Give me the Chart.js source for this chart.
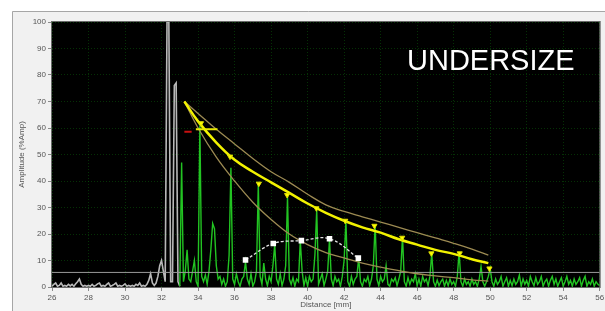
<!DOCTYPE html>
<html>
<head>
<meta charset="utf-8">
<script src="https://cdn.jsdelivr.net/npm/chart.js@4.4.1/dist/chart.umd.min.js"></script>
<style>
  html, body { margin: 0; padding: 0; background: #fff; }
  #wrap { position: relative; width: 605px; height: 311px; }
</style>
</head>
<body>
<div id="wrap"><canvas id="scan" width="605" height="311"></canvas></div>
<script>
const xTickValues = [26, 28, 30, 32, 34, 36, 38, 40, 42, 44, 46, 48, 50, 52, 54, 56];
const yTickValues = [0, 10, 20, 30, 40, 50, 60, 70, 80, 90, 100];

// sampled every 0.1 mm
const scanStep = 0.1;
const grayStart = 26.0;   // initial pulse / interface echo (gray)
const grayAmp = [
  0.3, 1, 1.5, 0.3, 0.6, 1.5, 0.3, 0.6, 0.3, 1,
  0.4, 1, 0.3, 1.2, 2, 3, 1, 0.3, 0.6, 0.3,
  0.6, 0.3, 1, 0.3, 0.6, 1.2, 1.5, 0.3, 0.6, 0.3,
  1, 1.5, 0.3, 0.6, 1, 1.5, 0.3, 0.6, 0.3, 0.6,
  1.2, 0.3, 0.6, 0.3, 0.6, 0.3, 1, 0.6, 1.5, 0.3,
  0.6, 0.3, 1, 2.5, 5, 1.5, 0.6, 1.5, 4, 8,
  10, 6, 2, 100, 100, 2, 2, 76, 77, 2,
  0.3
];
const greenStart = 33.0;  // weld signal (green)
const greenAmp = [
  0.3, 47, 2, 6, 14, 3, 2, 6, 10, 2,
  0.3, 61, 4, 2, 4.5, 1, 6, 14, 24, 22,
  8, 3, 4, 1, 3, 0.3, 2, 12, 45, 3,
  1, 5, 2, 0.3, 3, 4, 9.5, 3, 1, 5,
  0.3, 2, 6, 39, 4, 1, 9, 3, 0.5, 4,
  2, 8, 16, 3, 1, 5, 0.5, 3, 8, 34,
  3, 1, 3.5, 0.3, 3, 2, 17.5, 6, 0.5, 3.5,
  0.3, 4, 2, 3, 12, 29, 1, 3, 5, 0.5,
  3, 6, 18, 3, 0.5, 4, 2, 3, 0.3, 4,
  10, 25, 2, 0.3, 4, 1, 3, 4, 11, 2,
  0.3, 3, 2, 4, 0.5, 3, 8, 23.5, 3, 0.5,
  4, 2, 3, 8, 1, 0.3, 3, 2, 3.5, 0.5,
  3, 6, 19, 2, 0.3, 3.5, 1, 3, 2, 5,
  0.5, 3, 0.3, 4, 2, 3, 0.5, 4, 12.7, 2,
  0.3, 2.6, 0.5, 2, 3, 0.3, 2.5, 0.5, 3, 1,
  2, 0.3, 4, 13.3, 2, 0.3, 3, 1, 2, 0.3,
  3, 1, 2, 0.3, 3, 7.7, 2, 0.3, 2, 4,
  7, 2, 0.3, 3, 1, 2, 4, 0.3, 2, 3.5,
  0.3, 2.5, 0.5, 3, 1, 2, 4.5, 0.3, 3, 1,
  2.5, 0.3, 4, 2, 0.5, 3.5, 1, 2, 4, 0.3,
  2, 3, 0.3, 2.5, 4, 1, 3, 0.3, 2, 3.5,
  0.3, 2, 4, 1, 2.5, 0.3, 3, 1, 2, 3.5,
  0.3, 2.5, 4, 0.3, 2, 1, 3, 0.3, 2, 1,
  0.5
];

// DAC curve (yellow) with the two thin reference curves
const curveX    = [33.25, 34, 35, 36, 37, 38, 39, 40, 41, 42, 43, 44, 45, 46, 47, 48, 49, 49.9];
const dacMain   = [70, 62.5, 54.5, 48, 43.5, 39.5, 35.5, 31.5, 28, 25, 22.5, 20.5, 18, 16, 14, 12.5, 10.5, 9];
const dacUpper  = [70, 65.5, 59.5, 54, 48.5, 43.5, 39.5, 35, 31, 28.5, 26.5, 24.5, 22.5, 20.5, 18.5, 16.5, 14.3, 12];
const dacLower  = [70, 60, 49, 40, 32, 25.5, 20, 16, 13, 11, 9, 7.5, 6.2, 5, 4.2, 3.5, 2.7, 2.2];

// peak markers (yellow triangles)
const markX   = [34.16, 35.75, 37.33, 38.88, 40.48, 42.06, 43.66, 45.18, 46.78, 48.33, 49.96];
const markAmp = [61.8, 49.2, 39, 34.7, 29.7, 25, 23.1, 18.6, 12.7, 12.7, 7];

// echo dynamic (white squares)
const echoX   = [36.6, 38.12, 39.66, 41.2, 42.78];
const echoAmp = [10.2, 16.4, 17.5, 18.2, 10.9];

// gate / reference marks
const gateX = [33.88, 35.06];
const gateLevel = 59.5;
const refX = [33.25, 33.65];
const refLevel = 58.6;
const thresholdX = [26, 56];
const thresholdLevel = 5.5;

const statusText = 'UNDERSIZE';

/* ── helpers ── */
function sampled(start, amps) {
  return amps.map(function (a, i) { return { x: +(start + i * scanStep).toFixed(2), y: a }; });
}
function pairs(xs, ys) {
  return xs.map(function (x, i) { return { x: x, y: ys[i] }; });
}
function flat(xs, level) {
  return xs.map(function (x) { return { x: x, y: level }; });
}

/* ── frame + label plugin ── */
const framePlugin = {
  id: 'frame',
  beforeDraw: function (chart) {
    const ctx = chart.ctx, a = chart.chartArea;
    ctx.save();
    ctx.fillStyle = '#ffffff';
    ctx.fillRect(0, 0, chart.width, chart.height);
    ctx.fillStyle = '#f1f1f1';
    ctx.fillRect(12, 11, chart.width - 12, chart.height - 11);
    ctx.strokeStyle = '#a6a6a6';
    ctx.lineWidth = 1;
    ctx.beginPath();
    ctx.moveTo(12.5, chart.height); ctx.lineTo(12.5, 11.5); ctx.lineTo(chart.width, 11.5);
    ctx.stroke();
    ctx.fillStyle = '#000000';
    ctx.fillRect(a.left, a.top, a.right - a.left, a.bottom - a.top);
    ctx.restore();
  },
  afterDraw: function (chart) {
    const ctx = chart.ctx, a = chart.chartArea;
    ctx.save();
    ctx.strokeStyle = '#6a6a6a';
    ctx.lineWidth = 1;
    ctx.strokeRect(a.left - 0.5, a.top - 0.5, a.right - a.left + 1, a.bottom - a.top + 1);
    ctx.fillStyle = '#ffffff';
    ctx.font = '29px "Liberation Sans", Arial, sans-serif';
    ctx.textBaseline = 'alphabetic';
    ctx.fillText(statusText, 407, 70);
    ctx.restore();
  }
};

Chart.defaults.font.family = '"Liberation Sans", Arial, sans-serif';

const tickFont = { size: 8 };
const gridCommon = {
  color: 'rgba(10,95,10,0.5)',
  lineWidth: 1,
  tickLength: 4,
  tickColor: '#8a8a8a',
  tickBorderDash: []
};

new Chart(document.getElementById('scan'), {
  type: 'line',
  data: {
    datasets: [
      { label: 'markers', data: pairs(markX, markAmp), showLine: false,
        pointStyle: 'triangle', rotation: 180, pointRadius: 3,
        pointBackgroundColor: '#ffff00', pointBorderColor: '#e0e000', pointBorderWidth: 1, order: 1 },
      { label: 'echo', data: pairs(echoX, echoAmp), borderColor: '#e0e0e0', borderWidth: 1.3,
        borderDash: [3, 2], tension: 0.4, pointStyle: 'rect', pointRadius: 3,
        pointBackgroundColor: '#ffffff', pointBorderColor: '#ffffff', order: 2 },
      { label: 'gate', data: flat(gateX, gateLevel), borderColor: '#e8e800', borderWidth: 2,
        pointRadius: 0, order: 3 },
      { label: 'ref', data: flat(refX, refLevel), borderColor: '#c81010', borderWidth: 2,
        pointRadius: 0, order: 3 },
      { label: 'DAC', data: pairs(curveX, dacMain), borderColor: '#f2f200', borderWidth: 2.5,
        tension: 0.4, pointRadius: 0, order: 4 },
      { label: 'DAC +', data: pairs(curveX, dacUpper), borderColor: '#9c8a52', borderWidth: 1.3,
        tension: 0.4, pointRadius: 0, order: 5 },
      { label: 'DAC -', data: pairs(curveX, dacLower), borderColor: '#9c8a52', borderWidth: 1.3,
        tension: 0.4, pointRadius: 0, order: 5 },
      { label: 'threshold', data: flat(thresholdX, thresholdLevel), borderColor: '#9a9a9a', borderWidth: 1,
        pointRadius: 0, order: 6 },
      { label: 'signal', data: sampled(greenStart, greenAmp), borderColor: '#22c422', borderWidth: 1.4,
        pointRadius: 0, tension: 0, order: 7 },
      { label: 'pulse', data: sampled(grayStart, grayAmp), borderColor: '#b8b8b8', borderWidth: 1.6,
        pointRadius: 0, tension: 0, order: 8 }
    ]
  },
  options: {
    responsive: false,
    devicePixelRatio: 1,
    animation: false,
    layout: { padding: { left: 12, top: 22, right: 2, bottom: 0 } },
    plugins: { legend: { display: false }, tooltip: { enabled: false } },
    scales: {
      x: {
        type: 'linear', min: 26, max: 56,
        afterBuildTicks: function (s) { s.ticks = xTickValues.map(function (v) { return { value: v }; }); },
        afterFit: function (s) { s.height = 24; s.paddingLeft = 0; s.paddingRight = 0; },
        ticks: { color: '#555', font: tickFont, padding: 2, maxRotation: 0, autoSkip: false },
        grid: gridCommon,
        border: { display: false, dash: [1, 2] },
        title: { display: true, text: 'Distance [mm]', color: '#555', font: { size: 8 }, padding: { top: 0, bottom: 1 } }
      },
      y: {
        type: 'linear', min: 0, max: 100,
        afterBuildTicks: function (s) { s.ticks = yTickValues.map(function (v) { return { value: v }; }); },
        afterFit: function (s) { s.width = 40; s.paddingTop = 0; s.paddingBottom = 0; },
        ticks: { color: '#555', font: tickFont, padding: 2, autoSkip: false },
        grid: gridCommon,
        border: { display: false, dash: [1, 2] },
        title: { display: true, text: 'Amplitude (%Amp)', color: '#555', font: { size: 8 }, padding: { top: 5, bottom: 0 } }
      }
    }
  },
  plugins: [framePlugin]
});
</script>
</body>
</html>
